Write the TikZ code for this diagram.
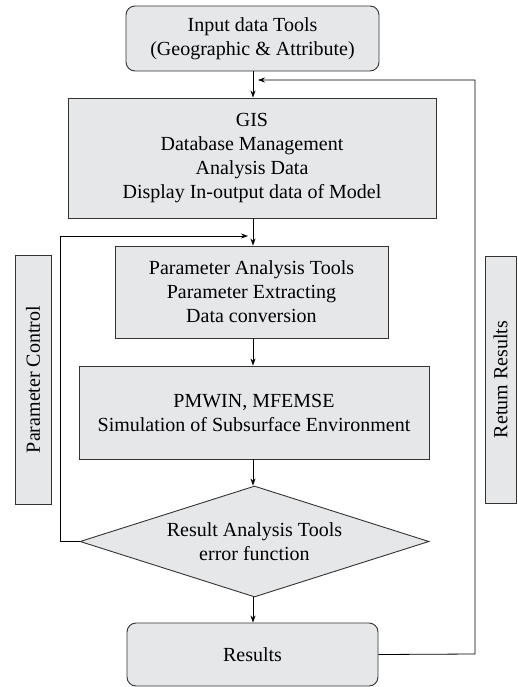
\documentclass[tikz,border=0pt]{standalone}
\usepackage{fontspec}
\setmainfont{Liberation Serif}
\usetikzlibrary{shapes.geometric,arrows.meta}
\definecolor{boxfill}{HTML}{E6E7E9}
\definecolor{boxline}{HTML}{333333}
\tikzset{
  base/.style={draw=boxline, fill=boxfill, line width=0.9pt, inner sep=0pt,
    align=center, font=\fontsize{20}{24}\selectfont},
  rbox/.style={base, rectangle},
  rrbox/.style={base, rectangle, rounded corners=9pt},
  dbox/.style={base, diamond, aspect=3.14},
  conn/.style={draw=black, line width=0.8pt},
  arr/.style={conn, -{Stealth[length=7pt,width=5pt]}},
}
\begin{document}
\begin{tikzpicture}[x=1pt,y=-1pt]
\useasboundingbox (0,0) rectangle (517,687);
\node[rrbox, minimum width=253pt, minimum height=65pt] (in) at (252.5,38.5)
  {Input data Tools\\(Geographic \& Attribute)};
\node[rbox, minimum width=368pt, minimum height=120pt] (gis) at (252,158)
  {GIS\\Database Management\\Analysis Data\\Display In-output data of Model};
\node[rbox, minimum width=273pt, minimum height=92pt] (par) at (251.5,292)
  {Parameter Analysis Tools\\Parameter Extracting\\Data conversion};
\node[rbox, minimum width=350pt, minimum height=93pt] (pm) at (254,412.5)
  {PMWIN, MFEMSE\\Simulation of Subsurface Environment};
\node[dbox, minimum width=349pt, minimum height=111pt] (dia) at (254.5,541.5)
  {Result Analysis Tools\\error function};
\node[rrbox, minimum width=251pt, minimum height=63pt] (res) at (252.5,654.5)
  {Results};
\node[rbox, minimum width=36pt, minimum height=249pt] (pc) at (33,379.5)
  {\rotatebox{90}{Parameter Control}};
\node[rbox, minimum width=31pt, minimum height=247pt] (rr) at (500.5,379.5)
  {\rotatebox{90}{Retum Results}};

\coordinate (sp) at (253,0);
\draw[arr] (sp |- in.south) -- (sp |- gis.north);
\draw[arr] (sp |- gis.south) -- (sp |- par.north);
\draw[arr] (sp |- par.south) -- (sp |- pm.north);
\draw[arr] (sp |- pm.south) -- (sp |- dia.north);
\draw[arr] (sp |- dia.south) -- (sp |- res.north);

\coordinate (r1) at (475,654);
\coordinate (r2) at (475,80);
\coordinate (r3) at (258,80);
\draw[arr] (res.east) -- (r1) -- (r2) -- (r3);

\coordinate (l1) at (60,541.5);
\coordinate (l2) at (60,236);
\coordinate (l3) at (248,236);
\draw[arr] (dia.west) -- (l1) -- (l2) -- (l3);
\end{tikzpicture}
\end{document}
